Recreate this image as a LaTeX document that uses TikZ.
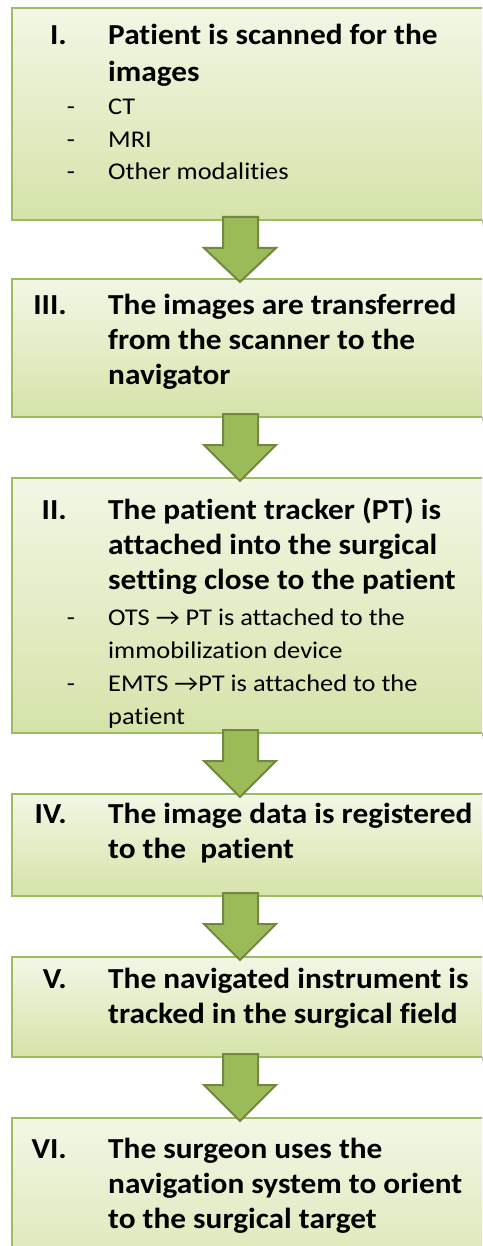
\documentclass[tikz,border=0pt]{standalone}
\usepackage{fontspec}
\setmainfont{Carlito}
\newfontfamily\headfont[FakeStretch=1.08,Ligatures=NoCommon]{Carlito}
\newfontfamily\itemfont[FakeStretch=1.10,Ligatures=NoCommon]{Carlito}
\usetikzlibrary{calc}
\definecolor{boxtop}{HTML}{F2F7E5}
\definecolor{boxbot}{HTML}{D5E3A9}
\definecolor{boxline}{HTML}{9DBB61}
\definecolor{arrfill}{HTML}{9BBB59}
\definecolor{arrline}{HTML}{71893F}
\pgfdeclarelayer{bg}\pgfsetlayers{bg,main}
\newcommand\flowarrow[2]{%
  \draw[flowarr] let \p1=(#1.south), \p2=(#2.north) in
    (223pt,\y1+3pt) -- (258pt,\y1+3pt) -- (258pt,\y1-28pt) -- (276pt,\y1-28pt)
    -- (240pt,\y2-3pt) -- (204pt,\y1-28pt) -- (223pt,\y1-28pt) -- cycle;}
\begin{document}
\begin{tikzpicture}[x=1pt,y=-1pt,
  stepbox/.style={draw=boxline, line width=1.5pt, top color=boxtop, bottom color=boxbot,
    minimum width=478pt, anchor=north west, inner sep=0pt, outer sep=0pt},
  num/.style={anchor=base east, inner sep=0pt, font=\headfont\fontsize{29}{35}\selectfont\bfseries},
  head/.style={anchor=base west, inner sep=0pt, align=left, font=\headfont\fontsize{29}{35}\selectfont\bfseries},
  dashmark/.style={anchor=base, inner sep=0pt, font=\itemfont\fontsize{24}{33}\selectfont},
  item/.style={anchor=base west, inner sep=0pt, align=left, font=\itemfont\fontsize{24}{33}\selectfont},
  flowarr/.style={fill=arrfill, draw=arrline, line width=2pt, line join=miter}
]
\useasboundingbox (0,0) rectangle (482,1246);
\clip (0,0) rectangle (482,1246);
\fill[white] (0,0) rectangle (482,1246);

% boxes
\node[stepbox, minimum height=212pt] (b1) at (12,8) {};
\node[stepbox, minimum height=138pt] (b3) at (12,279) {};
\node[stepbox, minimum height=255pt] (b2) at (12,478) {};
\node[stepbox, minimum height=102pt] (b4) at (12,794) {};
\node[stepbox, minimum height=100pt] (b5) at (12,957) {};
\node[stepbox, minimum height=200pt] (b6) at (12,1118) {};

\begin{pgfonlayer}{bg}
\foreach \b in {b1,b3,b2,b4,b5}{
  \fill[black,opacity=.22] ([xshift=1pt]\b.south west) rectangle ([yshift=-3pt]\b.south east);
  \fill[black,opacity=.10] ([xshift=2pt]\b.south west) rectangle ([yshift=-6pt]\b.south east);
}
\end{pgfonlayer}

% box I  (multi-line nodes are placed by the baseline of their last line)
\node[num] (n1) at (67,45) {I.};
\node[head, font=\headfont\fontsize{29}{37}\selectfont\bfseries] (h1) at (108,82) {Patient is scanned for the\\images};
\node[dashmark] (d1a) at (71,115) {-};
\node[item] (i1a) at (108,115) {CT};
\node[dashmark] (d1b) at (71,148) {-};
\node[item] (i1b) at (108,148) {MRI};
\node[dashmark] (d1c) at (71,180) {-};
\node[item] (i1c) at (108,180) {Other modalities};

% box III
\node[num] (n3) at (67,314) {III.};
\node[head] (h3) at (108,384) {The images are transferred\\from the scanner to the\\navigator};

% box II
\node[num] (n2) at (67,519) {II.};
\node[head] (h2) at (108,589) {The patient tracker (PT) is\\attached into the surgical\\setting close to the patient};
\node[dashmark] (d2a) at (71,625) {-};
\node[item] (i2a) at (108,658) {OTS → PT is attached to the\\immobilization device};
\node[dashmark] (d2b) at (71,691) {-};
\node[item] (i2b) at (108,724) {EMTS →PT is attached to the\\patient};

% box IV
\node[num] (n4) at (67,823) {IV.};
\node[head] (h4) at (108,858) {The image data is registered\\to the\ \ patient};

% box V
\node[num] (n5) at (67,988) {V.};
\node[head] (h5) at (108,1023) {The navigated instrument is\\tracked in the surgical field};

% box VI
\node[num] (n6) at (67,1158) {VI.};
\node[head] (h6) at (108,1228) {The surgeon uses the\\navigation system to orient\\to the surgical target};

% arrows
\flowarrow{b1}{b3}
\flowarrow{b3}{b2}
\flowarrow{b2}{b4}
\flowarrow{b4}{b5}
\flowarrow{b5}{b6}
\end{tikzpicture}
\end{document}
